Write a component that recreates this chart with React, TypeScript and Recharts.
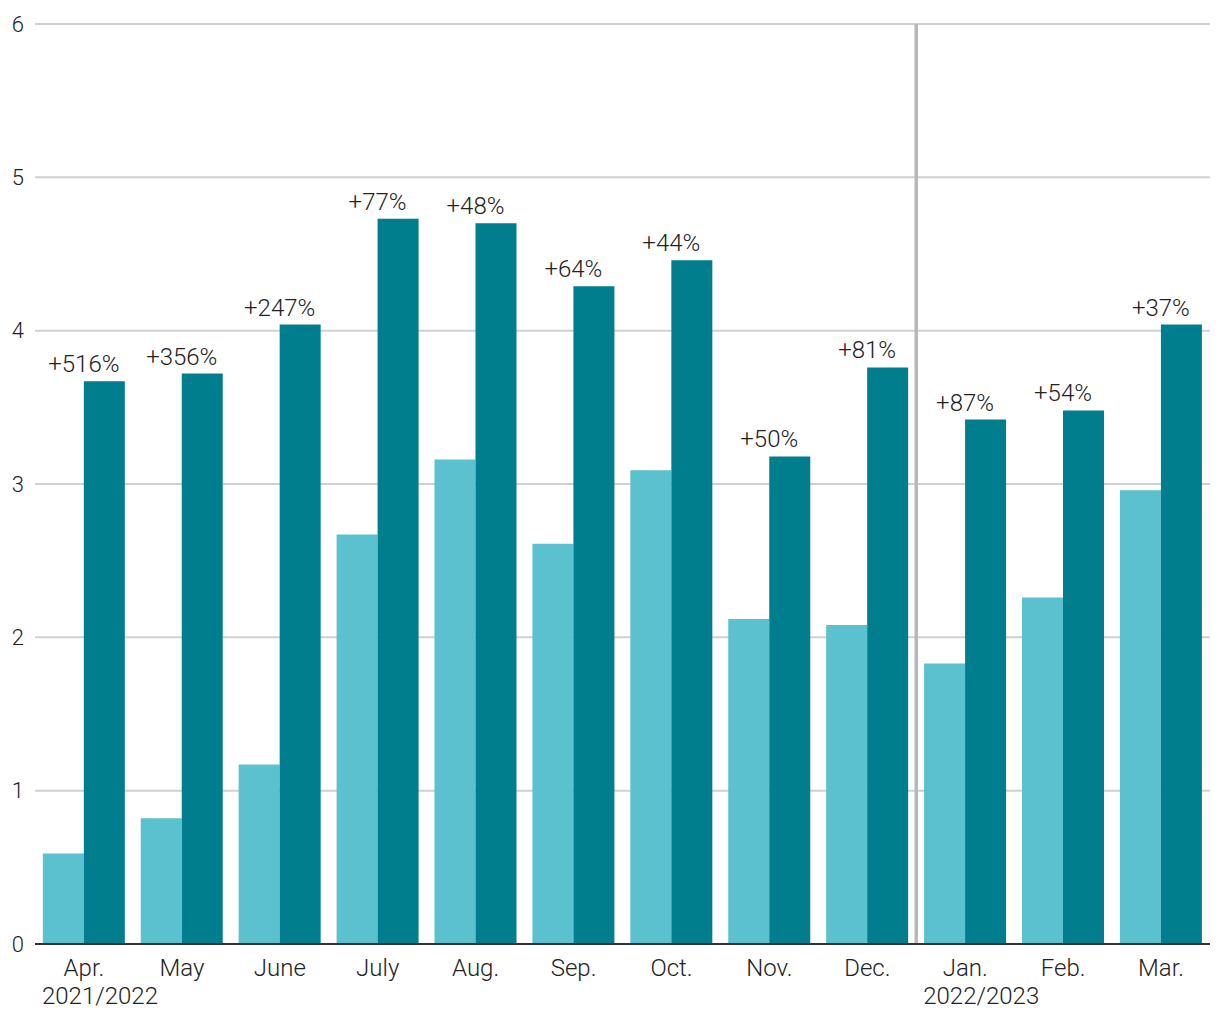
import { BarChart, Bar, XAxis, YAxis, CartesianGrid, ReferenceLine, LabelList } from 'recharts';

const months = ['Apr.', 'May', 'June', 'July', 'Aug.', 'Sep.', 'Oct.', 'Nov.', 'Dec.', 'Jan.', 'Feb.', 'Mar.'];
const seasons = ['2021/2022', '', '', '', '', '', '', '', '', '2022/2023', '', ''];
const previousYear = [0.59, 0.82, 1.17, 2.67, 3.16, 2.61, 3.09, 2.12, 2.08, 1.83, 2.26, 2.96];
const currentYear = [3.67, 3.72, 4.04, 4.73, 4.7, 4.29, 4.46, 3.18, 3.76, 3.42, 3.48, 4.04];
const changeLabels = ['+516%', '+356%', '+247%', '+77%', '+48%', '+64%', '+44%', '+50%', '+81%', '+87%', '+54%', '+37%'];
const yTicks = [0, 1, 2, 3, 4, 5, 6];

const data = months.map((m, i) => ({
  month: m,
  prev: previousYear[i],
  curr: currentYear[i],
  change: changeLabels[i],
}));

const font = 'Roboto, sans-serif';

function MonthTick({ x, y, payload, index }: any) {
  const sub = seasons[index];
  return (
    <g transform={`translate(${x},${y})`}>
      <text x={0} y={24} textAnchor="middle" fill="#222" fontSize={24} fontWeight={300} fontFamily={font}>
        {payload.value}
      </text>
      {sub && (
        <text x={-42} y={52} textAnchor="start" fill="#222" fontSize={24} fontWeight={300} fontFamily={font}>
          {sub}
        </text>
      )}
    </g>
  );
}

function ChangeLabel({ x, y, value }: any) {
  return (
    <text x={x} y={y - 9} textAnchor="middle" fill="#222" fontSize={24} fontWeight={300} fontFamily={font}>
      {value}
    </text>
  );
}

export default function App() {
  return (
    <div style={{ position: 'absolute', left: 0, top: 0, background: '#fff' }}>
      <BarChart
        width={1220}
        height={1020}
        data={data}
        margin={{ top: 24, right: 10, bottom: 0, left: 0 }}
        barCategoryGap="8%"
        barGap={0}
      >
        <CartesianGrid vertical={false} stroke="#d0d0d0" strokeWidth={2} />
        <XAxis
          dataKey="month"
          height={76}
          tickLine={false}
          axisLine={{ stroke: '#333', strokeWidth: 2 }}
          tick={<MonthTick />}
          interval={0}
        />
        <YAxis
          domain={[0, 6]}
          ticks={yTicks}
          width={35}
          axisLine={false}
          tickLine={false}
          tickSize={0}
          tickMargin={11}
          tick={{ fill: '#222', fontSize: 22, fontWeight: 300, fontFamily: font }}
        />
        <Bar dataKey="prev" fill="#5bc1ce" isAnimationActive={false} />
        <Bar dataKey="curr" fill="#007e8e" isAnimationActive={false}>
          <LabelList dataKey="change" content={<ChangeLabel />} />
        </Bar>
        <ReferenceLine x="Dec." position="end" stroke="#b8b8b8" strokeWidth={3.5} />
      </BarChart>
    </div>
  );
}
